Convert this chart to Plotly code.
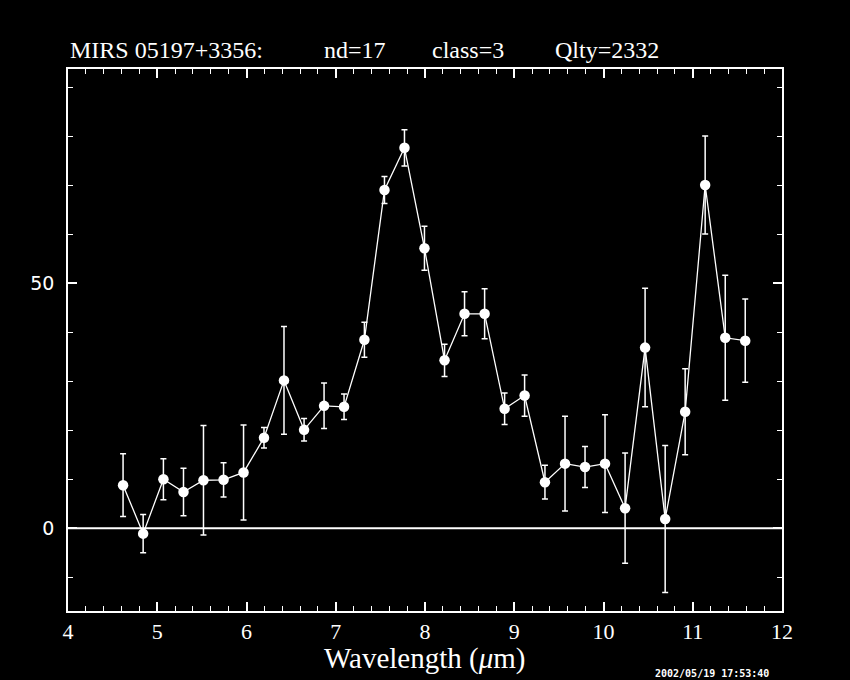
import plotly.graph_objects as go

wavelength = [4.617, 4.842, 5.069, 5.294, 5.518, 5.743, 5.967, 6.196, 6.420, 6.645,
              6.869, 7.093, 7.321, 7.546, 7.770, 7.994, 8.219, 8.443, 8.668, 8.892,
              9.116, 9.344, 9.569, 9.793, 10.017, 10.242, 10.466, 10.691, 10.915,
              11.139, 11.364, 11.588]
flux = [8.8, -1.1, 10.0, 7.4, 9.8, 9.9, 11.4, 18.5, 30.2, 20.1,
        25.0, 24.8, 38.5, 69.1, 77.7, 57.2, 34.3, 43.8, 43.8, 24.4,
        27.1, 9.4, 13.2, 12.5, 13.2, 4.1, 36.9, 1.9, 23.8,
        70.1, 38.9, 38.3]
flux_err = [6.4, 3.9, 4.2, 4.85, 11.2, 3.5, 9.7, 2.1, 11.0, 2.3,
            4.65, 2.6, 3.55, 2.75, 3.7, 4.5, 3.3, 4.5, 5.1, 3.2,
            4.2, 3.45, 9.7, 4.2, 10.0, 11.25, 12.1, 15.0, 8.8,
            10.0, 12.75, 8.5]

title_parts = ["MIRS 05197+3356:", "nd=17", "class=3", "Qlty=2332"]
title_px = [68, 322, 430, 553]
x_range = [4, 12]
y_range = [-16.9, 93.8]
x_title = "Wavelength (<i>μ</i>m)"
timestamp = "2002/05/19 17:53:40"

L, R, T, B = 68.3, 68.3, 68.7, 68.7
W, H = 850, 680
pw = W - L - R
ph = H - T - B

def px2paper_x(px):
    return (px - L) / pw

def py2paper_y(py):
    return (H - B - py) / ph

fig = go.Figure()
fig.add_trace(go.Scatter(
    x=wavelength, y=flux, mode="lines+markers",
    line=dict(color="white", width=1.3),
    marker=dict(color="white", size=10.5),
    error_y=dict(type="data", array=flux_err, visible=True,
                 color="white", thickness=1.5, width=3),
    showlegend=False,
))

fig.add_shape(type="line", xref="x", yref="y", x0=x_range[0], x1=x_range[1],
              y0=0, y1=0, line=dict(color="white", width=2))

serif = "Liberation Serif, Times New Roman, serif"

for txt, px in zip(title_parts, title_px):
    fig.add_annotation(text=txt, xref="paper", yref="paper",
                       x=px2paper_x(px), y=py2paper_y(50), xanchor="left",
                       yanchor="middle", showarrow=False,
                       font=dict(family=serif, size=24, color="white"))

fig.add_annotation(text=x_title, xref="paper", yref="paper",
                   x=px2paper_x(425), y=py2paper_y(659), xanchor="center",
                   yanchor="middle", showarrow=False,
                   font=dict(family=serif, size=29, color="white"))

fig.add_annotation(text="<b>" + timestamp + "</b>", xref="paper", yref="paper",
                   x=px2paper_x(653), y=py2paper_y(666), xanchor="left",
                   yanchor="top", showarrow=False,
                   font=dict(family="DejaVu Sans Mono, monospace", size=10, color="white"))

fig.update_xaxes(range=x_range, showgrid=False, zeroline=False,
                 showline=True, linecolor="white", linewidth=1.5, mirror="ticks",
                 ticks="inside", ticklen=9, tickwidth=1.5, tickcolor="white",
                 dtick=1, tick0=0,
                 minor=dict(ticks="inside", dtick=0.2, ticklen=5, tickwidth=1.2,
                            tickcolor="white", showgrid=False),
                 tickfont=dict(family=serif, size=22, color="white"))
fig.update_yaxes(range=y_range, showgrid=False, zeroline=False,
                 showline=True, linecolor="white", linewidth=1.5, mirror="ticks",
                 ticks="inside", ticklen=9, tickwidth=1.5, tickcolor="white",
                 dtick=50, tick0=0, ticklabelstandoff=8,
                 minor=dict(ticks="inside", dtick=10, ticklen=5, tickwidth=1.2,
                            tickcolor="white", showgrid=False),
                 tickfont=dict(family="DejaVu Sans, sans-serif", size=19, color="white"))

fig.update_layout(width=W, height=H, paper_bgcolor="black", plot_bgcolor="black",
                  margin=dict(l=L, r=R, t=T, b=B, autoexpand=False))

fig.write_html("out.html", config={"displayModeBar": False},
               post_script="document.body.style.margin='0px';document.body.style.overflow='hidden';document.body.style.background='black';")
